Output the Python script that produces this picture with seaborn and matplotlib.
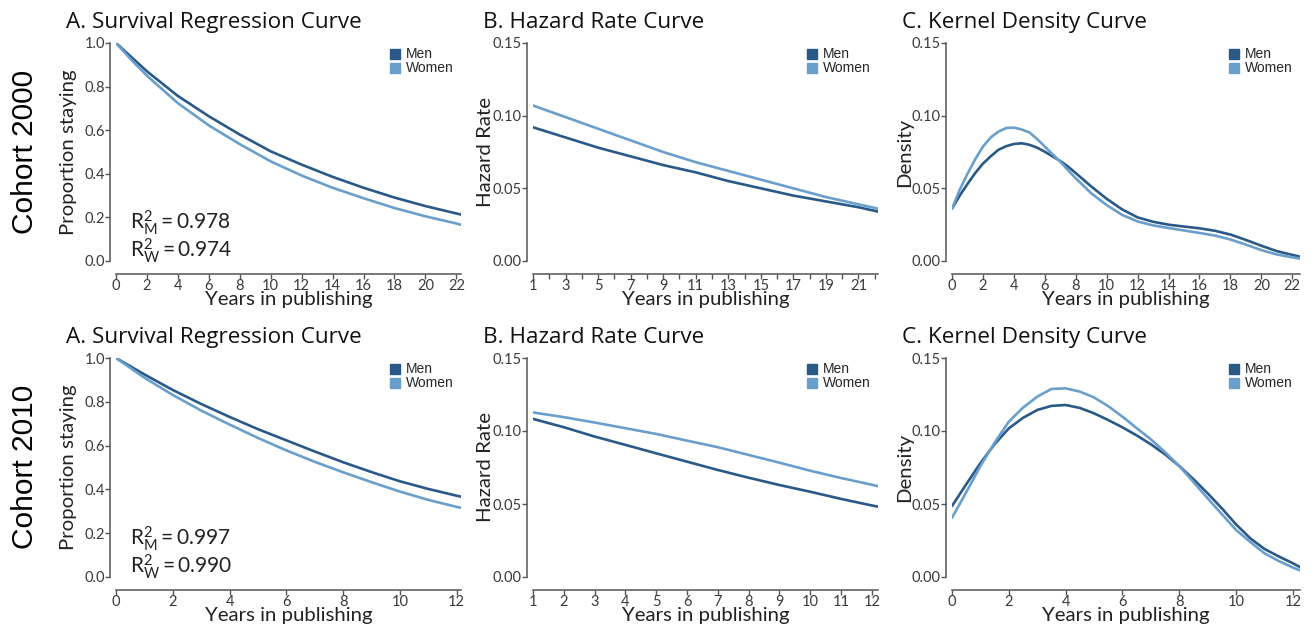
import numpy as np
import pandas as pd
import matplotlib
matplotlib.use("Agg")
import matplotlib.pyplot as plt
import seaborn as sns
from matplotlib.lines import Line2D

sns.set_theme(style="ticks")
plt.rcParams["font.family"] = ["Lato", "DejaVu Sans"]
plt.rcParams["mathtext.fontset"] = "custom"
plt.rcParams["mathtext.rm"] = "Lato"
plt.rcParams["mathtext.it"] = "Lato:italic"

MEN_COLOR = "#2b5987"
WOMEN_COLOR = "#6a9fcc"
GROUPS = ["Men", "Women"]

# ---------------- Cohort 2000 ----------------
surv00_years = [0, 1, 2, 4, 6, 8, 10, 12, 14, 16, 18, 20, 22, 22.3]
surv00_men = [1.0, 0.935, 0.870, 0.757, 0.664, 0.580, 0.503, 0.442, 0.386, 0.336, 0.291, 0.252, 0.218, 0.213]
surv00_women = [1.0, 0.922, 0.850, 0.724, 0.622, 0.536, 0.457, 0.392, 0.336, 0.288, 0.243, 0.205, 0.172, 0.166]

haz00_years = [1, 3, 5, 7, 9, 11, 13, 15, 17, 19, 21, 22.2]
haz00_men = [0.092, 0.085, 0.078, 0.072, 0.066, 0.061, 0.055, 0.050, 0.045, 0.041, 0.037, 0.034]
haz00_women = [0.107, 0.099, 0.091, 0.083, 0.075, 0.068, 0.062, 0.056, 0.050, 0.044, 0.039, 0.036]

dens00_years = [0, 0.5, 1, 1.5, 2, 2.5, 3, 3.5, 4, 4.5, 5, 5.5, 6, 6.5, 7, 7.5, 8,
                9, 10, 11, 12, 13, 14, 15, 16, 17, 18, 19, 20, 21, 22, 22.5]
dens00_men = [0.036, 0.045, 0.053, 0.0605, 0.067, 0.072, 0.0765, 0.079, 0.0805, 0.081, 0.080,
              0.078, 0.0752, 0.072, 0.0688, 0.065, 0.0605,
              0.0513, 0.0428, 0.0355, 0.030, 0.027, 0.025, 0.0237, 0.0225, 0.0208, 0.0182,
              0.0145, 0.0105, 0.0068, 0.0042, 0.003]
dens00_women = [0.036, 0.049, 0.060, 0.070, 0.0787, 0.085, 0.089, 0.0915, 0.0918, 0.0905, 0.0885,
                0.084, 0.0787, 0.0735, 0.0683, 0.0625, 0.0569,
                0.0466, 0.0385, 0.0317, 0.0272, 0.0245, 0.0227, 0.021, 0.0193, 0.0175, 0.0148,
                0.0113, 0.0075, 0.0045, 0.0025, 0.0016]

# ---------------- Cohort 2010 ----------------
surv10_years = list(range(0, 13)) + [12.15]
surv10_men = [1.0, 0.925, 0.854, 0.790, 0.731, 0.675, 0.624, 0.573, 0.524, 0.479, 0.437, 0.402, 0.371, 0.367]
surv10_women = [1.0, 0.910, 0.831, 0.760, 0.696, 0.635, 0.578, 0.526, 0.478, 0.433, 0.390, 0.352, 0.320, 0.316]

haz10_years = list(range(1, 13)) + [12.2]
haz10_men = [0.1083, 0.1026, 0.0962, 0.0905, 0.0847, 0.0790, 0.0733, 0.0680, 0.0630, 0.0584, 0.0535, 0.0490, 0.0482]
haz10_women = [0.1127, 0.1095, 0.1058, 0.1019, 0.0980, 0.0934, 0.0889, 0.0836, 0.0783, 0.0728, 0.0678, 0.0632, 0.0622]

dens10_years = [0, 0.5, 1, 1.5, 2, 2.5, 3, 3.5, 4, 4.5, 5, 5.5, 6, 6.5, 7, 7.5, 8, 8.5,
                9, 9.5, 10, 10.5, 11, 11.5, 12, 12.25]
dens10_men = [0.0486, 0.0635, 0.078, 0.091, 0.1018, 0.109, 0.1144, 0.1172, 0.1178, 0.1158, 0.1121,
              0.1075, 0.1025, 0.097, 0.0909, 0.084, 0.076, 0.067, 0.0573, 0.047, 0.0360, 0.0265,
              0.0192, 0.0141, 0.0094, 0.0068]
dens10_women = [0.0406, 0.058, 0.076, 0.092, 0.1064, 0.116, 0.1235, 0.1288, 0.1292, 0.127, 0.123,
                0.117, 0.1098, 0.102, 0.0943, 0.0855, 0.076, 0.065, 0.0539, 0.043, 0.0322, 0.024,
                0.0162, 0.011, 0.0065, 0.0045]

r2_00 = ["0.978", "0.974"]
r2_10 = ["0.997", "0.990"]
cohort_labels = ["Cohort 2000", "Cohort 2010"]
titles = ["A. Survival Regression Curve", "B. Hazard Rate Curve", "C. Kernel Density Curve"]
ylabels = ["Proportion staying", "Hazard Rate", "Density"]
xlabel = "Years in publishing"

W, H = 1315, 625
fig = plt.figure(figsize=(W / 100, H / 100), dpi=100)

col_left = [116, 533, 952]
col_width = [345, 345, 348]
row_bottom = [261, 577]
row_height = [218, 219]


def make_axes(r, c):
    return fig.add_axes([col_left[c] / W, 1 - row_bottom[r] / H,
                         col_width[c] / W, row_height[r] / H])


def draw_panel(ax, years, men, women, xlim, ylim, yticks, yfmt, xticks, xlabels,
               minor=None, ylabel="", title="", colw=345, rowh=218):
    df = pd.DataFrame({
        "year": list(years) + list(years),
        "value": list(men) + list(women),
        "group": ["Men"] * len(years) + ["Women"] * len(years),
    })
    sns.lineplot(data=df, x="year", y="value", hue="group", hue_order=GROUPS,
                 palette=[MEN_COLOR, WOMEN_COLOR], linewidth=1.9, ax=ax,
                 legend=False, estimator=None)
    for ln in ax.get_lines():
        ln.set_solid_joinstyle("round")
    ax.set_xlim(*xlim)
    ax.set_ylim(*ylim)
    ax.set_yticks(yticks)
    ax.set_yticklabels([yfmt.format(v) for v in yticks])
    ax.set_xticks(xticks)
    ax.set_xticklabels(xlabels)
    if minor is not None:
        ax.set_xticks(minor, minor=True)
    sns.despine(ax=ax, offset={"left": 4, "bottom": 9})
    ax.spines["bottom"].set_bounds(xlim[0], xlim[1])
    ax.spines["left"].set_bounds(ylim[0], ylim[1])
    for s in ("left", "bottom"):
        ax.spines[s].set_color("#555555")
        ax.spines[s].set_linewidth(1.1)
    ax.tick_params(axis="both", which="both", direction="out", length=3.5, width=1,
                   color="#555555", labelsize=10.5, labelcolor="#3a3a3a", pad=0.5)
    ax.set_xlabel(xlabel, fontsize=14.7, color="#222222")
    ax.xaxis.set_label_coords(0.5, -30 / rowh)
    ax.xaxis.label.set_va("top")
    ax.set_ylabel(ylabel, fontsize=14.7, color="#222222")
    ax.yaxis.set_label_coords(-39 / colw, 0.5)
    ax.text(-50 / colw, 1 + 15 / rowh, title, transform=ax.transAxes,
            fontsize=16.2, family="Open Sans", color="#111111", ha="left", va="baseline")
    handles = [Line2D([], [], marker="s", linestyle="", markersize=6.5,
                      color=col) for col in (MEN_COLOR, WOMEN_COLOR)]
    ax.legend(handles, GROUPS, loc="upper right", bbox_to_anchor=(0.995, 1.005),
              frameon=False, prop={"family": "Liberation Sans", "size": 10},
              handletextpad=0.3, labelspacing=0.0, borderaxespad=0.0,
              handlelength=1.0)


ytick_a = [0.0, 0.2, 0.4, 0.6, 0.8, 1.0]
ytick_bc = [0.0, 0.05, 0.10, 0.15]

panels = [
    # row 0
    (0, 0, surv00_years, surv00_men, surv00_women, (0, 22.3), (0, 1.0), ytick_a, "{:.1f}",
     list(range(0, 23, 2)), [str(v) for v in range(0, 23, 2)], None),
    (0, 1, haz00_years, haz00_men, haz00_women, (1, 22.2), (0, 0.15), ytick_bc, "{:.2f}",
     list(range(1, 22, 2)), [str(v) for v in range(1, 22, 2)], list(range(2, 23, 2))),
    (0, 2, dens00_years, dens00_men, dens00_women, (0, 22.5), (0, 0.15), ytick_bc, "{:.2f}",
     list(range(0, 23, 2)), [str(v) for v in range(0, 23, 2)], None),
    # row 1
    (1, 0, surv10_years, surv10_men, surv10_women, (0, 12.15), (0, 1.0), ytick_a, "{:.1f}",
     list(range(0, 13, 2)), [str(v) for v in range(0, 13, 2)], None),
    (1, 1, haz10_years, haz10_men, haz10_women, (1, 12.2), (0, 0.15), ytick_bc, "{:.2f}",
     list(range(1, 13)), [str(v) for v in range(1, 13)], None),
    (1, 2, dens10_years, dens10_men, dens10_women, (0, 12.25), (0, 0.15), ytick_bc, "{:.2f}",
     list(range(0, 13, 2)), [str(v) for v in range(0, 13, 2)], None),
]

axes = {}
for (r, c, yrs, m, w, xl, yl, yt, yf, xt, xtl, mn) in panels:
    ax = make_axes(r, c)
    draw_panel(ax, yrs, m, w, xl, yl, yt, yf, xt, xtl, minor=mn,
               ylabel=ylabels[c], title=titles[c], colw=col_width[c], rowh=row_height[r])
    axes[(r, c)] = ax

# R-squared annotations on the survival panels
for r, vals in ((0, r2_00), (1, r2_10)):
    ax = axes[(r, 0)]
    rh = row_height[r]
    ax.text(14 / 345, 32 / rh, r"$\mathrm{R}_{\mathrm{M}}^{2}=$" + vals[0],
            transform=ax.transAxes, fontsize=15, color="#222222", va="baseline")
    ax.text(14 / 345, 4 / rh, r"$\mathrm{R}_{\mathrm{W}}^{2}=$" + vals[1],
            transform=ax.transAxes, fontsize=15, color="#222222", va="baseline")

# Cohort row labels
fig.text(25 / W, 1 - 152 / H, cohort_labels[0], rotation=90, ha="center", va="center",
         fontsize=21.5, family="Liberation Sans", color="black")
fig.text(25 / W, 1 - 467 / H, cohort_labels[1], rotation=90, ha="center", va="center",
         fontsize=21.5, family="Liberation Sans", color="black")

fig.savefig("out.png", dpi=100, facecolor="white")
